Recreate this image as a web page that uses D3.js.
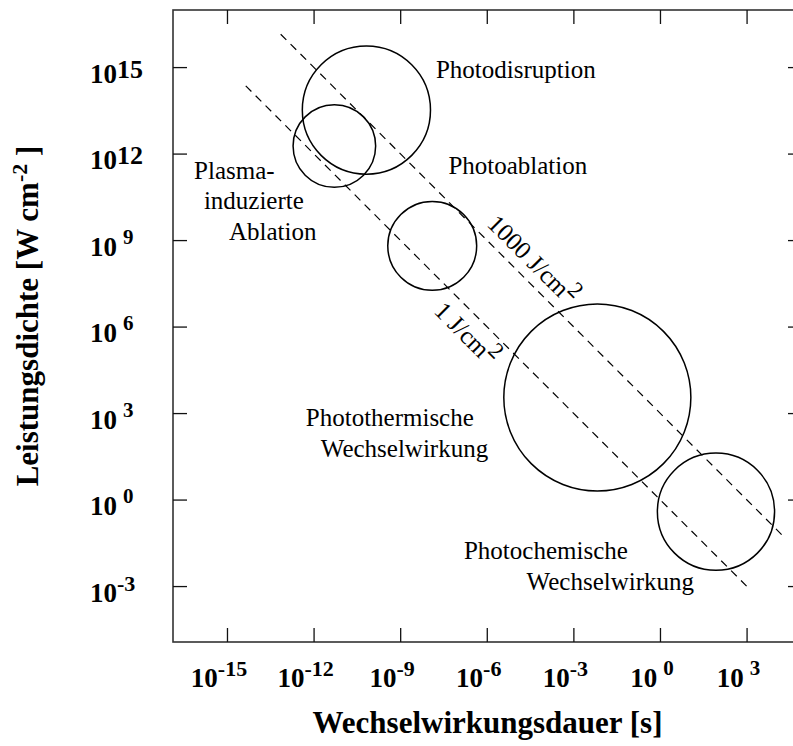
<!DOCTYPE html>
<html>
<head>
<meta charset="utf-8">
<script src="https://cdn.jsdelivr.net/npm/d3@7"></script>
<style>
  body { margin: 0; background: #fff; }
  svg { display: block; font-family: "Liberation Serif", "Times New Roman", serif; }
</style>
</head>
<body>
<div id="chart"></div>
<script>
// tick exponents (log10)
const xTickExp = [-15, -12, -9, -6, -3, 0, 3];
const yTickExp = [15, 12, 9, 6, 3, 0, -3];

// interaction regimes: centre (log10 t [s], log10 P [W/cm2]) and radius in decades
const regionNames = ["Photodisruption", "Plasma", "Photoablation", "Photothermisch", "Photochemisch"];
const regionLogT = [-10.17, -11.28, -7.89, -2.17, 1.94];
const regionLogP = [13.51, 12.26, 8.8, 3.54, -0.42];
const regionSpan = [2.22, 1.43, 1.54, 3.24, 2.03];

// constant fluence lines P = E / t
const fluenceE = [1000, 1];
const fluenceLabel = ["1000 J/cm", "1 J/cm"];
const fluenceFrom = [-13.14, -14.35];
const fluenceTo = [4.24, 3.0];
const fluenceLabelAt = [-6.27, -7.18];

// annotation text, placed in data coords (log10 t, log10 P)
const notes = [
  { text: "Photodisruption", t: -7.76, p: 14.62 },
  { text: "Photoablation", t: -7.33, p: 11.29 },
  { text: "Plasma-", t: -16.14, p: 11.11 },
  { text: "induzierte", t: -15.8, p: 10.08 },
  { text: "Ablation", t: -14.93, p: 9.0 },
  { text: "Photothermische", t: -12.27, p: 2.55 },
  { text: "Wechselwirkung", t: -11.75, p: 1.48 },
  { text: "Photochemische", t: -6.79, p: -2.07 },
  { text: "Wechselwirkung", t: -4.62, p: -3.14 },
];

const W = 793, H = 746;
const frame = { left: 173, right: 802, top: 10, bottom: 642 };

const svg = d3.select("#chart").append("svg")
  .attr("width", W)
  .attr("height", H);

const x = d3.scaleLog()
  .domain([Math.pow(10, -16.87), Math.pow(10, 4.92)])
  .range([frame.left, frame.right]);
const y = d3.scaleLog()
  .domain([Math.pow(10, -4.94), Math.pow(10, 16.98)])
  .range([frame.bottom, frame.top]);
const p10 = (e) => Math.pow(10, e);

// frame
svg.append("rect")
  .attr("x", frame.left)
  .attr("y", frame.top)
  .attr("width", frame.right - frame.left)
  .attr("height", frame.bottom - frame.top)
  .attr("fill", "none")
  .attr("stroke", "#333")
  .attr("stroke-width", 1.6);

// inward ticks on all four sides
const tickLen = 14;
const axes = [
  d3.axisBottom(x).tickValues(xTickExp.map(p10)).tickSizeInner(-tickLen).tickSizeOuter(0).tickFormat(""),
  d3.axisTop(x).tickValues(xTickExp.map(p10)).tickSizeInner(-tickLen).tickSizeOuter(0).tickFormat(""),
  d3.axisLeft(y).tickValues(yTickExp.map(p10)).tickSizeInner(-tickLen).tickSizeOuter(0).tickFormat(""),
  d3.axisRight(y).tickValues(yTickExp.map(p10)).tickSizeInner(-tickLen).tickSizeOuter(0).tickFormat(""),
];
const shifts = [
  `translate(0,${frame.bottom})`,
  `translate(0,${frame.top})`,
  `translate(${frame.left},0)`,
  `translate(${frame.right},0)`,
];
axes.forEach((ax, i) => {
  const g = svg.append("g").attr("transform", shifts[i]).call(ax);
  g.select(".domain").remove();
  g.selectAll(".tick text").remove();
  g.selectAll(".tick line").attr("stroke", "#111").attr("stroke-width", 1.3);
});

// power-of-ten label: "10" + raised exponent
function powLabel(sel, e) {
  const s = String(e);
  let size = 22, dy = -11, dx = 0;
  if (s.length === 1) { size = 21; dy = -12; dx = 6; }
  else if (e > 0) { size = 26; dy = -5; }
  sel.append("tspan").text("10");
  sel.append("tspan").attr("dx", dx).attr("dy", dy).attr("font-size", size).text(s);
}

svg.append("g")
  .selectAll("text")
  .data(xTickExp)
  .join("text")
  .attr("x", (d) => x(p10(d)) - 8)
  .attr("y", 687)
  .attr("text-anchor", "middle")
  .attr("font-size", 27)
  .attr("font-weight", "bold")
  .each(function (d) { powLabel(d3.select(this), d); });

svg.append("g")
  .selectAll("text")
  .data(yTickExp)
  .join("text")
  .attr("x", 90)
  .attr("y", (d) => y(p10(d)) + 15.5)
  .attr("font-size", 27)
  .attr("font-weight", "bold")
  .each(function (d) { powLabel(d3.select(this), d); });

// axis titles
svg.append("text")
  .attr("x", (frame.left + frame.right) / 2)
  .attr("y", 733)
  .attr("text-anchor", "middle")
  .attr("font-size", 31)
  .attr("font-weight", "bold")
  .text("Wechselwirkungsdauer [s]");

const yTitle = svg.append("text")
  .attr("transform", "translate(37.5,316) rotate(-90)")
  .attr("text-anchor", "middle")
  .attr("font-size", 31)
  .attr("font-weight", "bold");
yTitle.append("tspan").text("Leistungsdichte [W cm");
yTitle.append("tspan").attr("dy", -11).attr("font-size", 22).text("-2");
yTitle.append("tspan").attr("dy", 11).text("\u00a0]");

// fluence lines
const fluence = fluenceE.map((E, i) => ({
  E, label: fluenceLabel[i], from: fluenceFrom[i], to: fluenceTo[i], at: fluenceLabelAt[i],
}));
const lineGen = d3.line().x((d) => x(d.t)).y((d) => y(d.P));

svg.append("g")
  .selectAll("path")
  .data(fluence)
  .join("path")
  .attr("d", (d) => lineGen([d.from, d.to].map((e) => ({ t: p10(e), P: d.E / p10(e) }))))
  .attr("fill", "none")
  .attr("stroke", "#000")
  .attr("stroke-width", 1.2)
  .attr("stroke-dasharray", "8,6");

// rotated labels along the lines
const labelOffset = [10, -28];
fluence.forEach((d, i) => {
  const t0 = p10(d.at), t1 = p10(d.at + 1);
  const x0 = x(t0), y0 = y(d.E / t0);
  const ang = Math.atan2(y(d.E / t1) - y0, x(t1) - x0);
  const off = labelOffset[i];
  const px = x0 + off * Math.sin(ang), py = y0 - off * Math.cos(ang);
  const t = svg.append("text")
    .attr("transform", `translate(${px},${py}) rotate(${(ang * 180) / Math.PI})`)
    .attr("font-size", 25);
  t.append("tspan").text(d.label);
  t.append("tspan").attr("dy", -10).attr("font-size", 23).text("2");
});

// interaction regime circles
const regions = regionNames.map((name, i) => ({
  name, t: regionLogT[i], p: regionLogP[i], span: regionSpan[i],
}));
svg.append("g")
  .selectAll("circle")
  .data(regions)
  .join("circle")
  .attr("cx", (d) => x(p10(d.t)))
  .attr("cy", (d) => y(p10(d.p)))
  .attr("r", (d) => x(p10(d.t + d.span)) - x(p10(d.t)))
  .attr("fill", "none")
  .attr("stroke", "#000")
  .attr("stroke-width", 1.5);

// region annotations
svg.append("g")
  .selectAll("text")
  .data(notes)
  .join("text")
  .attr("x", (d) => x(p10(d.t)))
  .attr("y", (d) => y(p10(d.p)))
  .attr("font-size", 25)
  .text((d) => d.text);
</script>
</body>
</html>
